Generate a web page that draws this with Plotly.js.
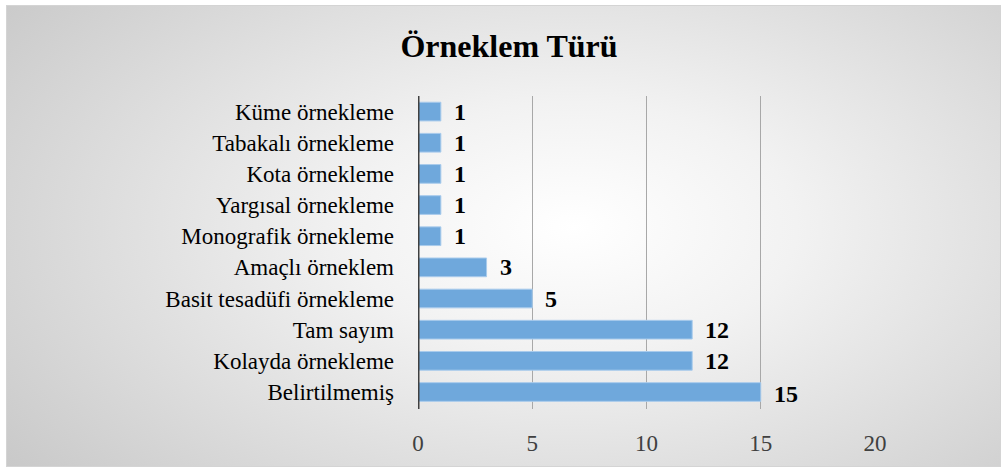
<!DOCTYPE html>
<html>
<head>
<meta charset="utf-8">
<script src="https://cdn.plot.ly/plotly-3.0.1.min.js"></script>
<style>
  html, body { margin: 0; padding: 0; background: #ffffff; }
  #bg { position: absolute; left: 6px; top: 5px; width: 993px; height: 460px;
        border: 1px solid #d4d4d4;
        background: radial-gradient(ellipse 75% 90% at 57% 48%, #ffffff 0%, #f2f2f2 30%, #c6c6c6 100%); }
  #chart { position: absolute; left: 0; top: 0; width: 1003px; height: 471px; }
</style>
</head>
<body>
<div id="bg"></div>
<div id="chart"></div>
<script>
const categories = ["Belirtilmemiş", "Kolayda örnekleme", "Tam sayım", "Basit tesadüfi örnekleme", "Amaçlı örneklem", "Monografik örnekleme", "Yargısal örnekleme", "Kota örnekleme", "Tabakalı örnekleme", "Küme örnekleme"];
const values = [15, 12, 12, 5, 3, 1, 1, 1, 1, 1];
const tickVals = [0, 5, 10, 15, 20];
const chartTitle = "Örneklem Türü";

const serif = "'Liberation Serif', 'Times New Roman', serif";

const trace = {
  type: "bar",
  orientation: "h",
  x: values,
  y: categories,
  marker: { color: "#6fa8dc", line: { color: "#a9cbec", width: 1 } },
  hoverinfo: "none"
};

const annotations = values.map((v, i) => ({
  x: v, y: categories[i], xref: "x", yref: "y",
  text: String(v), showarrow: false, xanchor: "left", yanchor: "middle",
  xshift: 11, yshift: i === 0 ? -2 : 0,
  font: { family: serif, size: 24, color: "#000000", weight: "bold" }
}));

const layout = {
  width: 1003, height: 471,
  paper_bgcolor: "rgba(0,0,0,0)",
  plot_bgcolor: "rgba(0,0,0,0)",
  margin: { l: 418, r: 128, t: 96, b: 62 },
  showlegend: false,
  bargap: 0.4,
  title: { text: "<b>" + chartTitle + "</b>", x: 509 / 1003, xanchor: "center", y: 1 - 46 / 471, yanchor: "middle",
           font: { family: serif, size: 32, color: "#000000" } },
  xaxis: {
    range: [0, 20], tickvals: tickVals, ticktext: tickVals.map(String),
    showgrid: true, gridcolor: "#a8a8a8", gridwidth: 1,
    zeroline: false, showline: false, ticks: "",
    ticklabelstandoff: 18,
    tickfont: { family: serif, size: 23, color: "#404040" }
  },
  yaxis: {
    type: "category", categoryorder: "array", categoryarray: categories,
    showgrid: false, zeroline: false, ticks: "",
    showline: false,
    ticklabelstandoff: 23,
    tickfont: { family: serif, size: 23, color: "#000000" }
  },
  shapes: [{ type: "line", xref: "x", yref: "paper", x0: 0, x1: 0, y0: 0, y1: 1,
             line: { color: "#404040", width: 3 } }],
  annotations: annotations
};

Plotly.newPlot("chart", [trace], layout, { displayModeBar: false, staticPlot: true });
</script>
</body>
</html>
